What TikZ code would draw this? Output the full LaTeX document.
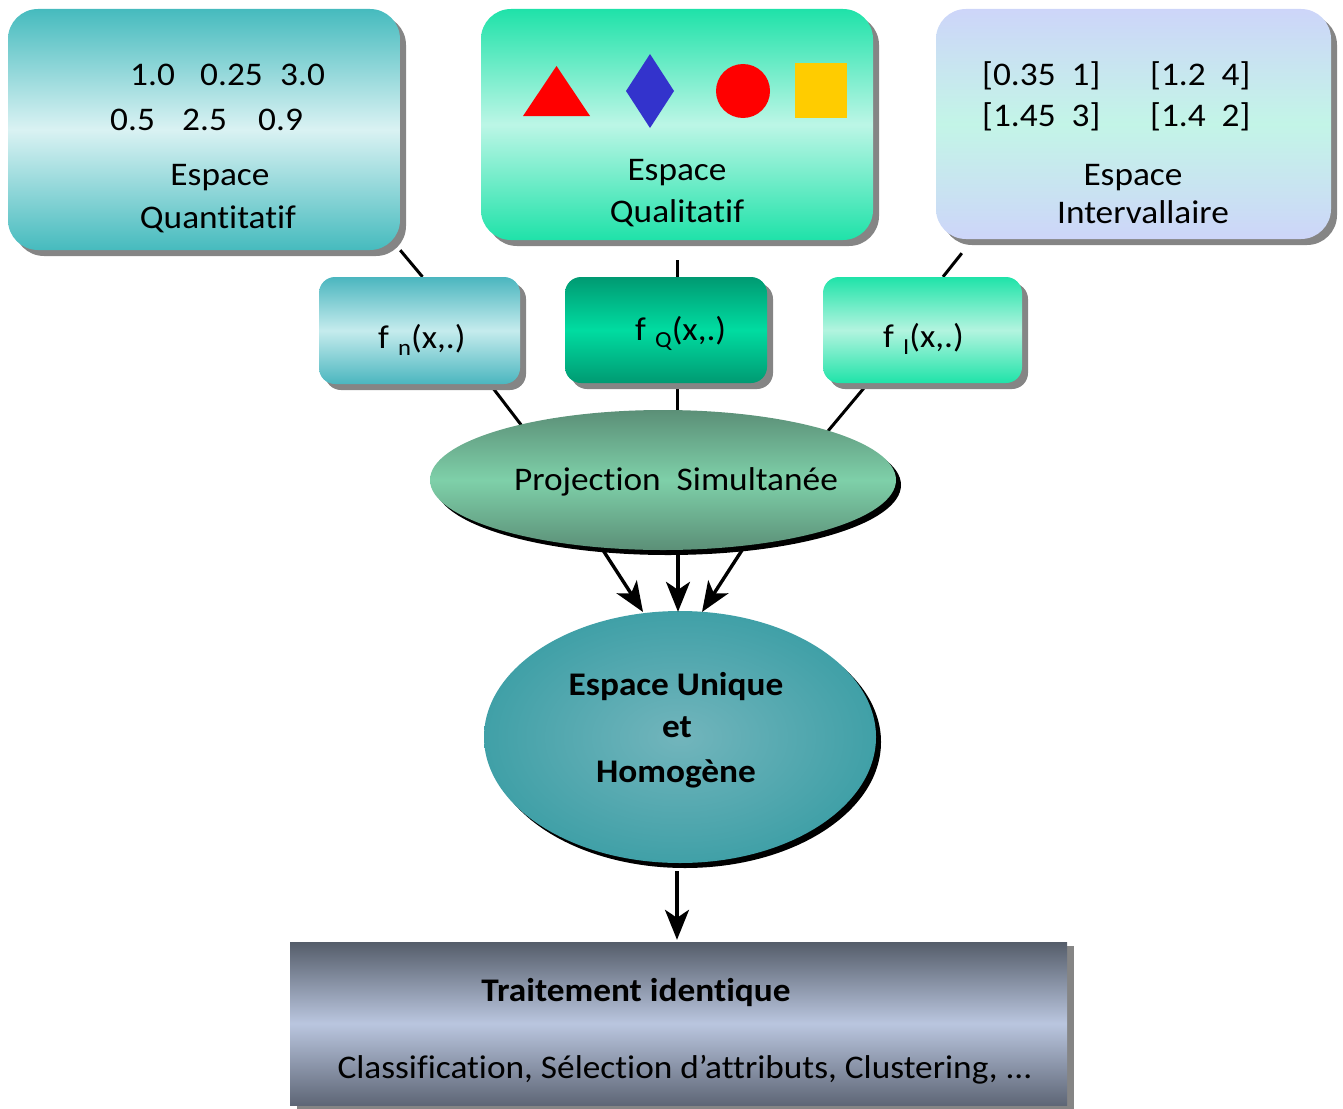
\documentclass[tikz,border=0pt]{standalone}
\usepackage{fontspec}
\setmainfont{Carlito}[FakeStretch=1.07,Ligatures={NoCommon}]
\usetikzlibrary{shapes.geometric,shadows,calc,arrows.meta,backgrounds}
\definecolor{qtop}{HTML}{46BBBE}
\definecolor{qmid}{HTML}{DAF2F3}
\definecolor{qualtop}{HTML}{1FE2A9}
\definecolor{qualmid}{HTML}{BCF6E6}
\definecolor{inttop}{HTML}{CDD5F9}
\definecolor{intmid}{HTML}{C3F5E7}
\definecolor{fntop}{HTML}{4BB6BF}
\definecolor{fnmid}{HTML}{C5EBED}
\definecolor{fqtop}{HTML}{009A72}
\definecolor{fqmid}{HTML}{00DCA1}
\definecolor{fitop}{HTML}{1FE3A9}
\definecolor{fimid}{HTML}{B3F4DF}
\definecolor{projdark}{HTML}{5B8F77}
\definecolor{projmid}{HTML}{7ED0A9}
\definecolor{uniqin}{HTML}{72B5BC}
\definecolor{uniqout}{HTML}{40A0A7}
\definecolor{bottop}{HTML}{555D6A}
\definecolor{botmid}{HTML}{BAC6DF}
\definecolor{botbot}{HTML}{5E6676}
\definecolor{dblue}{HTML}{3333CC}
\definecolor{sqyellow}{HTML}{FFCC00}
\newcommand\fsub[1]{f\hspace{0.28em}\raisebox{-7pt}{\fontsize{23}{25}\selectfont #1}}
\begin{document}
\begin{tikzpicture}[x=1pt,y=-1pt,
  bigbox/.style={rectangle, rounded corners=30pt, inner sep=0pt,
    drop shadow={shadow xshift=6pt,shadow yshift=-6pt,fill=black!48,opacity=1}},
  smallbox/.style={rectangle, rounded corners=16pt, inner sep=0pt,
    drop shadow={shadow xshift=6pt,shadow yshift=-6pt,fill=black!48,opacity=1}},
  ell/.style={ellipse, inner sep=0pt,
    drop shadow={shadow xshift=5pt,shadow yshift=-5pt,fill=black,opacity=1}},
  conn/.style={line width=3pt, black},
  arr/.style={line width=3.4pt, black, -{Stealth[length=30pt,width=24pt,inset=8pt]}},
  lbl/.style={inner sep=0pt, font=\fontsize{33}{38}\selectfont},
  lblb/.style={inner sep=0pt, font=\fontsize{33}{38}\selectfont\bfseries}]
\useasboundingbox (0,0) rectangle (1343,1108);

% ---- top boxes
\node[bigbox, minimum width=392pt, minimum height=241pt,
  top color=qtop, bottom color=qtop, middle color=qmid] (q) at (204,129.5) {};
\node[bigbox, minimum width=392pt, minimum height=231pt,
  top color=qualtop, bottom color=qualtop, middle color=qualmid] (qual) at (677,124.5) {};
\node[bigbox, minimum width=395pt, minimum height=230pt,
  top color=inttop, bottom color=inttop, middle color=intmid] (int) at (1133.5,124) {};

% quantitative values
\node[lbl, anchor=base west] (n1) at (130,85) {1.0};
\node[lbl, anchor=base west] (n2) at (200,85) {0.25};
\node[lbl, anchor=base west] (n3) at (280,85) {3.0};
\node[lbl, anchor=base west] (n4) at (110,130) {0.5};
\node[lbl, anchor=base west] (n5) at (182,130) {2.5};
\node[lbl, anchor=base west] (n6) at (258,130) {0.9};
\node[lbl, anchor=base] (qt1) at (220,185) {Espace};
\node[lbl, anchor=base] (qt2) at (218,228) {Quantitatif};

% qualitative symbols
\fill[red] (523,116) -- (590,116) -- (556.5,66) -- cycle;
\fill[dblue] (650,54) -- (674,91) -- (650,128) -- (626,91) -- cycle;
\fill[red] (743,91) circle[radius=27pt];
\fill[sqyellow] (795,63) rectangle (847,118);
\node[lbl, anchor=base] (lt1) at (677,180) {Espace};
\node[lbl, anchor=base] (lt2) at (677,222) {Qualitatif};

% intervals
\node[lbl, anchor=base west] (i1) at (982,85) {[0.35~~1]};
\node[lbl, anchor=base west] (i2) at (1150,85) {[1.2~~4]};
\node[lbl, anchor=base west] (i3) at (982,126) {[1.45~~3]};
\node[lbl, anchor=base west] (i4) at (1150,126) {[1.4~~2]};
\node[lbl, anchor=base] (it1) at (1133,185) {Espace};
\node[lbl, anchor=base] (it2) at (1143,223) {Intervallaire};

% ---- function boxes
\node[smallbox, minimum width=201pt, minimum height=107pt,
  top color=fntop, bottom color=fntop, middle color=fnmid] (fn) at (419.5,330.5) {};
\node[smallbox, minimum width=202pt, minimum height=106pt,
  top color=fqtop, bottom color=fqtop, middle color=fqmid] (fq) at (666,330) {};
\node[smallbox, minimum width=199pt, minimum height=106pt,
  top color=fitop, bottom color=fitop, middle color=fimid] (fi) at (922.5,330) {};
\node[lbl, anchor=base west] (fnt) at (378,348) {\fsub{n}(x,.)};
\node[lbl, anchor=base west] (fqt) at (635,340) {\fsub{Q}(x,.)};
\node[lbl, anchor=base west] (fit) at (883,347) {\fsub{I}(x,.)};

% ---- projection ellipse
\node[ell, minimum width=466pt, minimum height=140pt,
  top color=projdark, bottom color=projdark, middle color=projmid] (proj) at (663,480) {};
\node[lbl, anchor=base] (projt) at (676,490) {Projection~~Simultanée};

% ---- unique space
\node[ell, minimum width=392pt, minimum height=252pt,
  inner color=uniqin, outer color=uniqout] (uniq) at (680,737) {};
\node[lblb, anchor=base] (u1) at (676,695) {Espace Unique};
\node[lblb, anchor=base] (u2) at (677,737) {et};
\node[lblb, anchor=base] (u3) at (676,782) {Homogène};

% ---- bottom box
\node[rectangle, inner sep=0pt, minimum width=777pt, minimum height=163pt,
  top color=bottop, bottom color=botbot, middle color=botmid,
  drop shadow={shadow xshift=7pt,shadow yshift=-4pt,fill=black!48,opacity=1}] (bot) at (678.5,1023.5) {};
\node[lblb, anchor=base] (bt1) at (636,1001) {Traitement identique};
\node[lbl, anchor=base] (bt2) at (685,1078) {Classification, Sélection d’attributs, Clustering, ...};

% ---- connectors
\begin{scope}[on background layer]
  \draw[conn] (q.south east) -- ($(fn.north)+(3,0)$);
  \draw[conn] ($(qual.south)+(0,20)$) -- ($(fq.north)+(11,0)$);
  \draw[conn] ($(int.south west)+(26,14)$) -- ($(fi.north)+(20.5,0)$);
  \draw[conn] ($(fn.south)+(70.5,0)$) -- ($(proj.center)+(-141,-54)$);
  \draw[conn] ($(fq.south)+(11,0)$) -- ($(proj.north)+(14,0)$);
  \draw[conn] ($(fi.south)+(-54.5,0)$) -- ($(proj.center)+(165,-49)$);
\end{scope}
\draw[arr] ($(proj.south)+(-60,0)$) -- ($(uniq.center)+(-37,-125)$);
\draw[arr] ($(proj.south)+(15,0)$) -- ($(uniq.north)+(-2,1)$);
\draw[arr] ($(proj.south)+(79,0)$) -- ($(uniq.center)+(22,-125)$);
\draw[arr] ($(uniq.south)+(-3,8)$) -- ($(bot.north)+(-1.5,-2)$);
\end{tikzpicture}
\end{document}
